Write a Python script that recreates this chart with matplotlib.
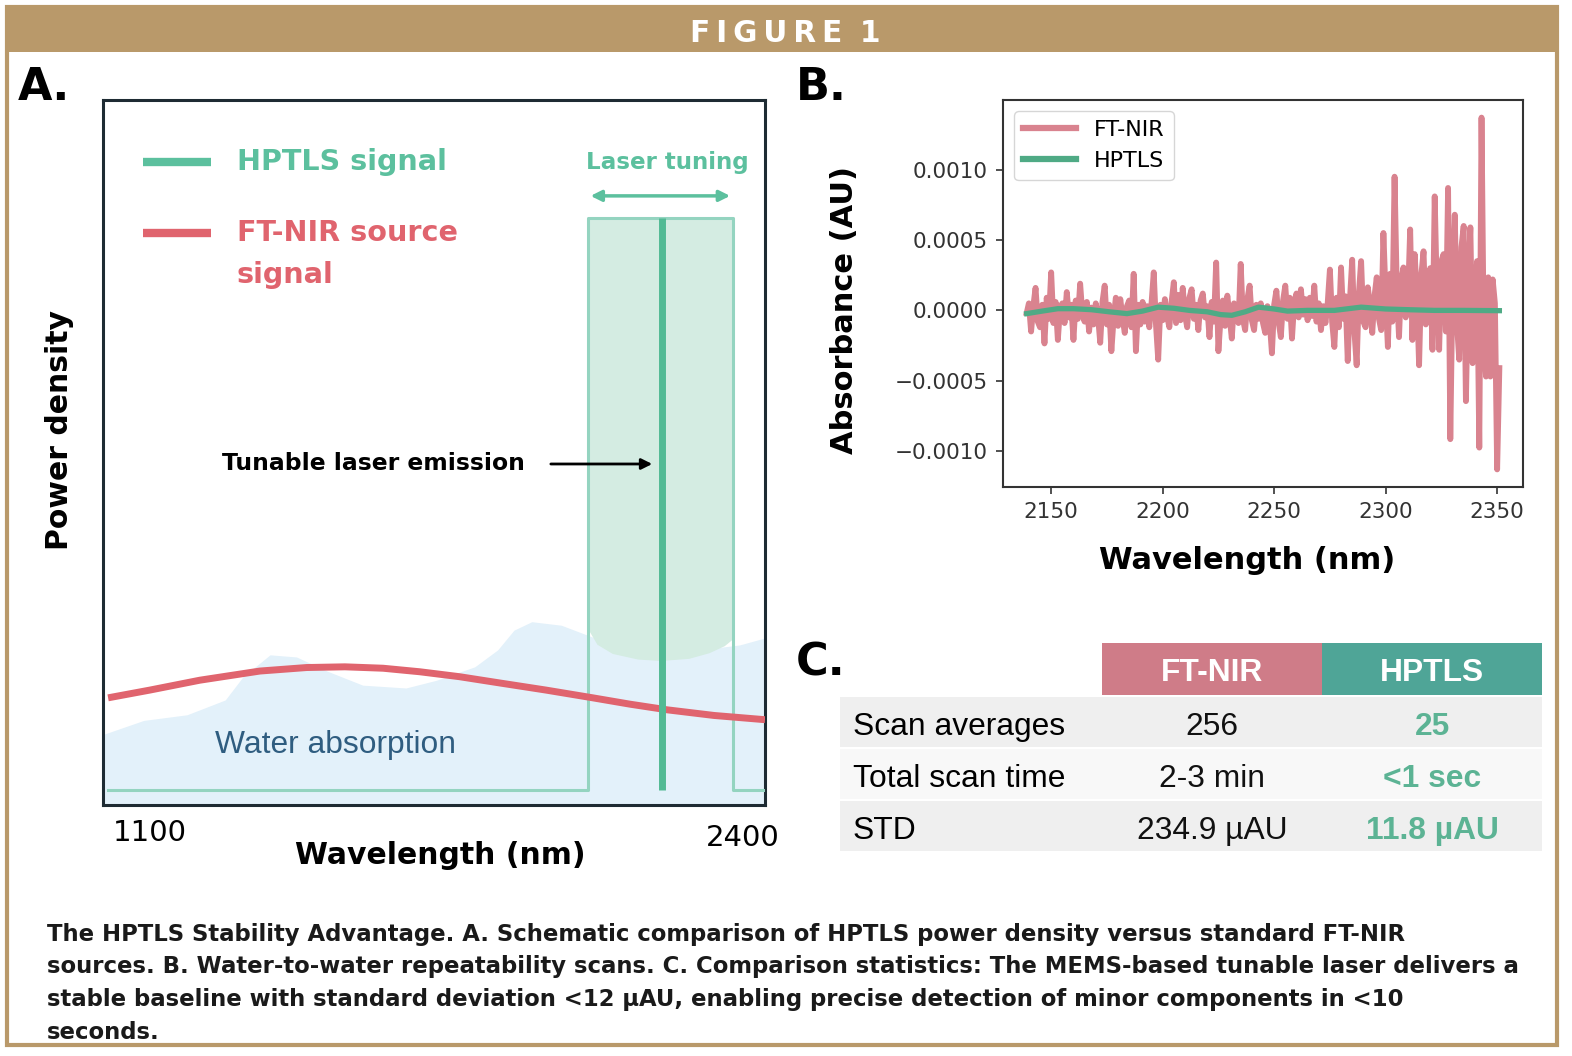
import numpy as np
import matplotlib
matplotlib.use('Agg')
import matplotlib.pyplot as plt
from matplotlib import font_manager
from matplotlib.patches import Rectangle
from matplotlib.ticker import FuncFormatter

# ---- panel A: schematic (wavelength in nm, power density 0..1) ----
water_wl = [1100, 1180, 1265, 1340, 1375, 1428, 1480, 1540, 1610, 1695, 1755,
            1830, 1875, 1907, 1942, 2000, 2062, 2155, 2270, 2350, 2400]
water_top = [0.10, 0.12, 0.128, 0.149, 0.182, 0.213, 0.21, 0.19, 0.17, 0.166, 0.177,
             0.196, 0.22, 0.248, 0.26, 0.255, 0.238, 0.227, 0.22, 0.227, 0.237]

source_wl = [1110, 1192, 1290, 1408, 1500, 1575, 1650, 1722, 1800, 1880, 1970, 2062, 2135, 2208, 2300, 2400]
source_level = [0.152, 0.163, 0.177, 0.190, 0.195, 0.196, 0.194, 0.189, 0.182, 0.173, 0.163,
                 0.152, 0.143, 0.135, 0.127, 0.121]

tuning_wl = [2052, 2070, 2100, 2150, 2195, 2250, 2290, 2320, 2337]
tuning_floor = [0.25, 0.228, 0.215, 0.207, 0.205, 0.208, 0.216, 0.226, 0.236]
tuning_top = 0.833

hptls_step_wl = [1110, 2052, 2052, 2337, 2337, 2400]
hptls_step = [0.021, 0.021, 0.833, 0.833, 0.021, 0.021]
emission_wl = 2198

# ---- panel B: water-to-water repeatability, one reading per nm from 2139 nm (1e-4 AU) ----
ftnir_start = 2139
ftnir_abs = [
    -0.2, 0.5, -1.5, 0.3, 1.6, -0.8, -1.2, 0.4, -2.35, 0.9,
    -0.6, 2.7, -0.9, 0.6, -2.1, 0.2, 0.5, -0.9, 1.3, -0.5,
    0.4, -2.1, 0.7, -0.6, 1.9, -0.3, -0.8, 0.6, -1.5, 0.2,
    -1.0, 0.5, -0.4, -2.3, 0.6, 1.76, -1.0, 0.4, -2.9, -0.6,
    0.9, -1.1, 0.8, -0.5, -1.6, 0.3, 0.7, -1.2, 2.6, -2.9,
    0.4, -1.0, 0.6, -0.8, 0.3, -1.2, 0.5, 2.7, -1.0, -3.5,
    0.4, -0.7, 0.8, -0.4, -1.2, 0.6, 2.0, -0.9, 1.1, -0.7,
    1.6, -0.3, -1.2, 0.9, 1.5, -0.6, 0.4, -1.4, 0.7, 1.2,
    -0.5, 0.3, -1.9, 0.6, -0.8, 3.4, -2.9, -0.5, 0.7, -1.1,
    1.05, -0.4, -2.0, 0.5, 0.2, -0.9, 3.3, -0.6, -1.4, 0.8,
    1.76, -0.7, -1.4, 0.4, -0.6, 0.5, -0.9, -1.6, 0.3, -0.8,
    -3.05, 0.4, 1.4, -0.8, -1.9, 0.7, 1.76, -0.6, 0.9, -2.0,
    0.6, 1.2, -0.5, 1.5, -0.3, 0.8, -0.7, 0.9, -0.4, 1.76,
    -0.8, 0.5, -1.4, 0.3, -0.9, 0.5, 2.9, -0.8, -2.6, 0.9,
    -1.2, 3.05, -0.6, 1.0, -3.6, 0.8, 3.6, -1.5, -3.9, 1.2,
    3.5, -0.8, -1.2, 1.64, 0.4, -1.6, 1.0, 2.35, -0.6, -1.4,
    5.5, 1.0, -2.6, 2.6, -0.8, 9.5, 1.5, -1.9, 2.2, 3.05,
    -0.5, 0.8, 5.75, -2.1, 4.0, 1.2, -3.9, 2.5, 4.2, -1.0,
    -0.5, 3.0, -2.8, 8.1, 1.0, -2.8, 3.5, 4.0, -1.5, 8.7,
    -9.15, 2.0, 6.8, -1.0, -3.5, 4.5, 6.0, -6.45, 2.0, 5.9,
    -3.75, 1.0, 3.5, -9.75, 13.7, -2.0, -4.7, 2.35, -4.7, 2.2,
    0.5, -11.3, -4.1]
ftnir_wl = np.arange(len(ftnir_abs)) + ftnir_start

hptls_wl = [2139, 2146, 2153, 2160, 2168, 2176, 2184, 2191, 2198, 2205, 2212, 2220, 2226,
            2231, 2237, 2243, 2250, 2256, 2265, 2277, 2289, 2300, 2310, 2322, 2335, 2351]
hptls_abs = [-0.23, -0.05, 0.12, 0.12, 0.05, -0.1, -0.23, -0.05, 0.23, 0.15, 0.0, -0.1, -0.3,
             -0.35, -0.1, 0.23, 0.1, -0.05, 0.0, 0.0, 0.23, 0.1, 0.05, 0.0, 0.0, -0.02]

# ---- panel C: comparison table ----
table_cols = ['FT-NIR', 'HPTLS']
table_rows = ['Scan averages', 'Total scan time', 'STD']
ftnir_stats = ['256', '2-3 min', '234.9 µAU']
hptls_stats = ['25', '<1 sec', '11.8 µAU']

caption = ['The HPTLS Stability Advantage. A. Schematic comparison of HPTLS power density versus standard FT-NIR',
           'sources. B. Water-to-water repeatability scans. C. Comparison statistics: The MEMS-based tunable laser delivers a',
           'stable baseline with standard deviation <12 µAU, enabling precise detection of minor components in <10',
           'seconds.']

gold = '#b9996a'
teal_a = '#5cc09e'
red_a = '#e0646e'
red_b = '#d9838f'
green_b = '#4faa85'

W, H = 1572, 1056
fig = plt.figure(figsize=(W / 100, H / 100), dpi=100)
renderer = fig.canvas.get_renderer()

names = {f.name for f in font_manager.fontManager.ttflist}
cond = 'DejaVu Sans Condensed' if 'DejaVu Sans Condensed' in names else 'DejaVu Sans'
narrow = 'Liberation Sans Narrow' if 'Liberation Sans Narrow' in names else 'Liberation Sans'


def box(l, t, r, b):
    return [l / W, 1 - b / H, (r - l) / W, (b - t) / H]


def fit(txt, width):
    w = txt.get_window_extent(renderer).width
    txt.set_fontsize(txt.get_fontsize() * width / w)
    return txt.get_fontsize()


# frame and banner
fig.add_artist(Rectangle((7 / W, 1 - 1045 / H), 1550 / W, 1038 / H, transform=fig.transFigure,
                         fill=False, ec=gold, lw=3, zorder=0))
fig.add_artist(Rectangle((5 / W, 1 - 52 / H), 1553 / W, 47 / H, transform=fig.transFigure,
                         fc=gold, ec='none', zorder=0))
title = '\u2009'.join('FIGURE') + '\u2009\u2009\u2009' + '1'
t = fig.text(785 / W, 1 - 42 / H, title, color='white', weight='bold',
             family=cond, ha='center', va='baseline', fontsize=22)
fit(t, 190)

for lab, x, y in [('A.', 18, 100), ('B.', 796, 100), ('C.', 796, 676)]:
    fig.text(x / W, 1 - y / H, lab, fontsize=32, weight='bold', family=cond, va='baseline')

# ---------------- panel A ----------------
axA = fig.add_axes(box(103, 100, 765, 805))
axA.set_xlim(1100, 2400)
axA.set_ylim(0, 1)
axA.set_xticks([])
axA.set_yticks([])
for s in axA.spines.values():
    s.set_color('#1e2b33')
    s.set_linewidth(2.2)

axA.fill_between(water_wl, 0, water_top, color='#e3f1fa', lw=0, zorder=1)
axA.fill_between(tuning_wl, tuning_floor, tuning_top, color='#d4ece2', lw=0, zorder=2)
axA.plot(hptls_step_wl, hptls_step, color='#94d4c0', lw=2.2, zorder=3)
axA.plot(source_wl, source_level, color=red_a, lw=5, solid_capstyle='butt', zorder=4)
axA.plot([emission_wl, emission_wl], [hptls_step[0], tuning_top], color='#52ba94', lw=5,
         solid_capstyle='butt', zorder=5)

# legend of the schematic
axA.plot([0.0604, 0.163], [0.912, 0.912], transform=axA.transAxes, color=teal_a, lw=6,
         solid_capstyle='butt')
axA.plot([0.0604, 0.163], [0.811, 0.811], transform=axA.transAxes, color=red_a, lw=6,
         solid_capstyle='butt')
t = axA.text(0.2024, 0.912, 'HPTLS signal', transform=axA.transAxes, color=teal_a,
             weight='bold', family=cond, va='center', fontsize=20)
fs = fit(t, 210)
axA.text(0.2024, 0.811, 'FT-NIR source', transform=axA.transAxes, color=red_a,
         weight='bold', family=cond, va='center', fontsize=fs)
axA.text(0.2024, 0.752, 'signal', transform=axA.transAxes, color=red_a,
         weight='bold', family=cond, va='center', fontsize=fs)

t = axA.text(0.852, 0.912, 'Laser tuning', transform=axA.transAxes, color=teal_a,
             weight='bold', family=cond, ha='center', va='center', fontsize=16)
fit(t, 164)
axA.annotate('', xy=(2052, 0.864), xytext=(2337, 0.864),
             arrowprops=dict(arrowstyle='<|-|>', color=teal_a, lw=2.5, mutation_scale=16))

t = axA.text(0.6375, 0.4837, 'Tunable laser emission', transform=axA.transAxes, color='black',
             weight='bold', ha='right', va='center', fontsize=17)
fit(t, 303)
axA.annotate('', xy=(2184, 0.4837), xytext=(1974, 0.4837),
             arrowprops=dict(arrowstyle='-|>', color='black', lw=2, mutation_scale=16))

t = axA.text(0.169, 0.085, 'Water absorption', transform=axA.transAxes, color='#2f5d80',
             family='Liberation Sans', va='center', fontsize=22)
fit(t, 240)

axA.text(0.071, -0.0397, '1100', transform=axA.transAxes, ha='center', va='center', fontsize=21)
axA.text(0.967, -0.047, '2400', transform=axA.transAxes, ha='center', va='center', fontsize=21)
axA.text(0.509, -0.071, 'Wavelength (nm)', transform=axA.transAxes, ha='center', va='center',
         fontsize=21.5, weight='bold')
axA.text(-0.065, 0.532, 'Power density', transform=axA.transAxes, ha='center', va='center',
         rotation=90, fontsize=21.5, weight='bold')

# ---------------- panel B ----------------
axB = fig.add_axes(box(1003, 100, 1523, 487))
axB.plot(ftnir_wl, np.array(ftnir_abs) * 1e-4, color=red_b, lw=4.2, label='FT-NIR')
axB.plot(hptls_wl, np.array(hptls_abs) * 1e-4, color=green_b, lw=3.8, label='HPTLS')
axB.set_xlim(2128.4, 2361.6)
axB.set_ylim(-0.001255, 0.001495)
axB.set_xticks([2150, 2200, 2250, 2300, 2350])
axB.set_yticks([-0.001, -0.0005, 0, 0.0005, 0.001])
axB.yaxis.set_major_formatter(FuncFormatter(lambda v, _: f'{v:.4f}'.replace('-', '\u2212')))
axB.tick_params(labelsize=15.5, length=5, width=1.2, color='#333333', labelcolor='#333333', pad=6)
for s in axB.spines.values():
    s.set_color('#333333')
    s.set_linewidth(1.5)
axB.text(-0.304, 0.457, 'Absorbance (AU)', transform=axB.transAxes, rotation=90,
         ha='center', va='center', fontsize=22, weight='bold')
axB.text(0.469, -0.19, 'Wavelength (nm)', transform=axB.transAxes,
         ha='center', va='center', fontsize=22, weight='bold')
leg = axB.legend(loc='upper left', fontsize=16, handlelength=2.4, framealpha=0.8)
for line in leg.get_lines():
    line.set_linewidth(4.5)

# ---------------- panel C ----------------
axC = fig.add_axes(box(840, 643, 1542, 853))
axC.set_xlim(840, 1542)
axC.set_ylim(853, 643)
axC.axis('off')
head_colors = ['#cf7c88', '#4fa597']
col_centers = [1212, 1432]
for i, name in enumerate(table_cols):
    axC.add_patch(Rectangle((1102 + 220 * i, 643), 220, 52, color=head_colors[i], lw=0))
row_bg = ['#efefef', '#f8f8f8', '#efefef']
for i in range(len(table_rows)):
    axC.add_patch(Rectangle((840, 697 + 52 * i), 702, 50, color=row_bg[i], lw=0))

t = axC.text(853, 727, table_rows[0], family=narrow, va='center', fontsize=24)
fs = fit(t, 212)
for i, name in enumerate(table_cols):
    axC.text(col_centers[i], 673, name, family=narrow, weight='bold', color='white',
             ha='center', va='center', fontsize=fs)
for i in range(len(table_rows)):
    y = 727 + 52 * i
    if i > 0:
        axC.text(853, y, table_rows[i], family=narrow, va='center', fontsize=fs)
    axC.text(col_centers[0], y, ftnir_stats[i], family=narrow, ha='center', va='center',
             fontsize=fs, color='#111111')
    axC.text(col_centers[1], y, hptls_stats[i], family=narrow, ha='center', va='center',
             fontsize=fs, weight='bold', color='#5cb394')

# ---------------- caption ----------------
baselines = [941, 973, 1006, 1039]
t = fig.text(47 / W, 1 - baselines[1] / H, caption[1], family=cond, weight='bold',
             color='#1a1a1a', va='baseline', fontsize=17)
fs = fit(t, 1478)
for i, line in enumerate(caption):
    if i != 1:
        fig.text(47 / W, 1 - baselines[i] / H, line, family=cond, weight='bold',
                 color='#1a1a1a', va='baseline', fontsize=fs)

fig.savefig('out.png', dpi=100)
